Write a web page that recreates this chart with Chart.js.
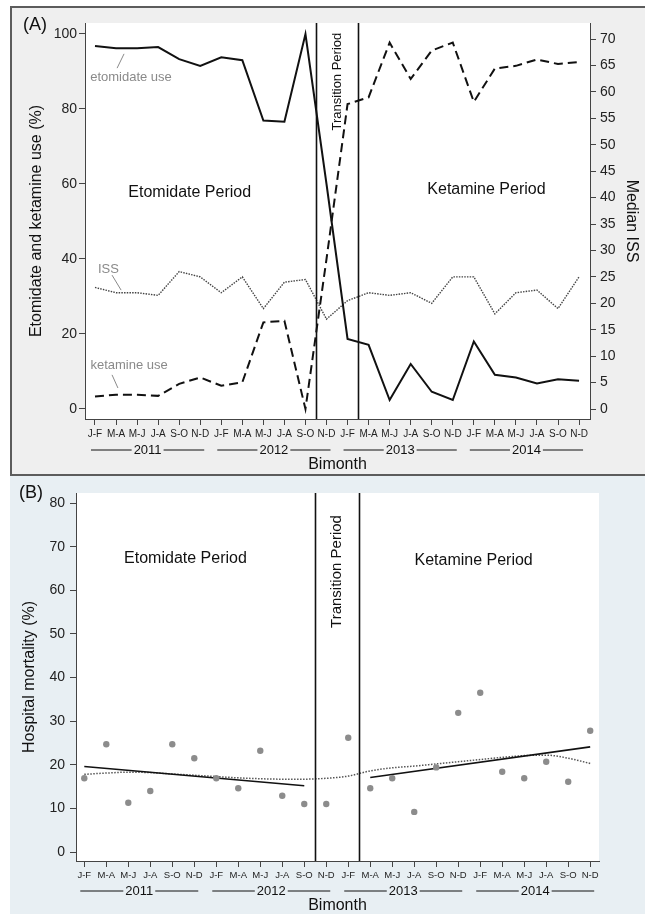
<!DOCTYPE html>
<html>
<head>
<meta charset="utf-8">
<script src="https://cdn.jsdelivr.net/npm/chart.js@4.4.1/dist/chart.umd.min.js"></script>
<style>
  html, body { margin: 0; padding: 0; background: #fff; }
  body { width: 645px; height: 914px; position: relative; overflow: hidden; }
  #panel-a { position: absolute; left: 10px; top: 6px; width: 640px; height: 466px; background: #efefef; border: 2px solid #5c5c5c; border-right: none; }
  #panel-b { position: absolute; left: 10px; top: 476px; width: 640px; height: 440px; background: #e8eff3; }
  canvas { position: absolute; left: 0; }
  #chart-a { top: 0; }
  #chart-b { top: 476px; }
</style>
</head>
<body>
<div id="panel-a"></div>
<div id="panel-b"></div>
<canvas id="chart-a" width="645" height="476"></canvas>
<canvas id="chart-b" width="645" height="438"></canvas>
<script>
// Bimonths, 2011-2014
const bimonths = ['J-F', 'M-A', 'M-J', 'J-A', 'S-O', 'N-D',
                  'J-F', 'M-A', 'M-J', 'J-A', 'S-O', 'N-D',
                  'J-F', 'M-A', 'M-J', 'J-A', 'S-O', 'N-D',
                  'J-F', 'M-A', 'M-J', 'J-A', 'S-O', 'N-D'];
const years = ['2011', '2012', '2013', '2014'];
const periodBreaks = [10.5, 12.5];

// Panel A
const etomidateUse = [96.8, 96.2, 96.2, 96.5, 93.3, 91.5, 93.8, 93.0, 76.9, 76.6, 100, 60,
                      18.7, 17.1, 2.4, 12.0, 4.6, 2.4, 18.0, 9.1, 8.4, 6.8, 7.9, 7.5];
const ketamineUse = [3.3, 3.8, 3.8, 3.5, 6.7, 8.4, 6.2, 7.1, 23.1, 23.5, 0, 40,
                     81.3, 83.1, 97.7, 88.0, 95.6, 97.7, 81.9, 90.8, 91.5, 93.2, 92.0, 92.5];
const medianISS = [23, 22, 22, 21.5, 26, 25, 22, 25, 19, 24, 24.5, 17,
                   20.5, 22, 21.5, 22, 20, 25, 25, 18, 22, 22.5, 19, 25];
const useTicks = [0, 20, 40, 60, 80, 100];
const issTicks = [0, 5, 10, 15, 20, 25, 30, 35, 40, 45, 50, 55, 60, 65, 70];

// Panel B
const mortality = [16.9, 24.7, 11.3, 14.0, 24.7, 21.5, 16.9, 14.6, 23.2, 12.9, 11.0, 11.0,
                   26.2, 14.6, 16.9, 9.2, 19.4, 31.9, 36.5, 18.4, 16.9, 20.7, 16.1, 27.8];
const mortalityLowess = [17.8, 18.1, 18.3, 18.2, 17.9, 17.6, 17.3, 17.0, 16.8, 16.7, 16.7, 16.9,
                         17.4, 18.6, 19.3, 19.7, 20.2, 20.7, 21.2, 21.7, 22.1, 22.2, 21.5, 20.3];
const etoFitX = [0, 10];
const etoFitY = [19.6, 15.2];
const ketFitX = [13, 23];
const ketFitY = [17.1, 24.1];
const mortalityTicks = [0, 10, 20, 30, 40, 50, 60, 70, 80];

const FONT = '"Liberation Sans", Arial, sans-serif';
const pts = (ys, xs) => ys.map((y, i) => ({ x: xs ? xs[i] : i, y: y }));

function drawText(ctx, text, x, y, size, color, rot) {
  ctx.save();
  ctx.translate(x, y);
  if (rot) ctx.rotate(rot);
  ctx.font = size + 'px ' + FONT;
  ctx.fillStyle = color;
  ctx.textAlign = 'center';
  ctx.textBaseline = 'middle';
  ctx.fillText(text, 0, 0);
  ctx.restore();
}

function line(ctx, x1, y1, x2, y2, color, w) {
  ctx.save();
  ctx.strokeStyle = color;
  ctx.lineWidth = w;
  ctx.beginPath();
  ctx.moveTo(x1, y1);
  ctx.lineTo(x2, y2);
  ctx.stroke();
  ctx.restore();
}

// white plot area, period lines, year rows
function framePlugin(opts) {
  return {
    id: 'frame',
    beforeDraw(chart) {
      const a = chart.chartArea, ctx = chart.ctx;
      ctx.save();
      ctx.fillStyle = '#fff';
      ctx.fillRect(a.left, a.top, a.right - a.left, a.bottom - a.top);
      ctx.restore();
    },
    afterDatasetsDraw(chart) {
      const a = chart.chartArea, ctx = chart.ctx;
      const xs = chart.scales.x, ys = chart.scales.y;
      periodBreaks.forEach(b => {
        const px = Math.round(xs.getPixelForValue(b)) + 0.5;
        line(ctx, px, a.top, px, a.bottom, '#111', 1.6);
      });
      // period labels
      opts.periods.forEach(p => {
        drawText(ctx, p.text, xs.getPixelForValue(p.x), ys.getPixelForValue(p.y), p.size, '#111', p.rot || 0);
      });
      // series annotations
      (opts.notes || []).forEach(n => {
        drawText(ctx, n.text, xs.getPixelForValue(n.x), ys.getPixelForValue(n.y), 13, '#8a8a8a', 0);
        line(ctx, xs.getPixelForValue(n.lx[0]), ys.getPixelForValue(n.ly[0]),
                  xs.getPixelForValue(n.lx[1]), ys.getPixelForValue(n.ly[1]), '#8a8a8a', 1);
      });
      // year rows
      ctx.save();
      ctx.font = '13px ' + FONT;
      const yy = a.bottom + opts.yearOffset;
      years.forEach((yr, g) => {
        const x0 = xs.getPixelForValue(g * 6) - 4;
        const x1 = xs.getPixelForValue(g * 6 + 5) + 4;
        const mid = (x0 + x1) / 2;
        const w = ctx.measureText(yr).width;
        line(ctx, x0, yy, mid - w / 2 - 2, yy, '#111', 1);
        line(ctx, mid + w / 2 + 2, yy, x1, yy, '#111', 1);
        drawText(ctx, yr, mid, yy + 0.5, 13, '#111', 0);
      });
      ctx.restore();
      drawText(ctx, opts.tag, opts.tagX, opts.tagY, 18, '#111', 0);
    }
  };
}

const xScale = (min, max, h, size) => ({
  type: 'linear', min: min, max: max,
  afterBuildTicks: s => { s.ticks = bimonths.map((_, i) => ({ value: i })); },
  afterFit: s => { s.height = h; },
  ticks: { callback: v => bimonths[v], autoSkip: false, maxRotation: 0, padding: 3,
           color: '#222', font: { family: FONT, size: size } },
  grid: { drawOnChartArea: false, tickLength: 6, color: '#444' },
  border: { color: '#444', width: 1 },
  title: { display: true, text: 'Bimonth', color: '#111', font: { family: FONT, size: 16, lineHeight: 1 },
           padding: { top: 0, bottom: h === 57 ? 3 : 0 } }
});

// ---- Panel A ----
new Chart(document.getElementById('chart-a').getContext('2d'), {
  type: 'line',
  data: {
    datasets: [
      { data: pts(etomidateUse), yAxisID: 'y', borderColor: '#111', borderWidth: 2, pointRadius: 0 },
      { data: pts(ketamineUse), yAxisID: 'y', borderColor: '#111', borderWidth: 2, borderDash: [9, 5], pointRadius: 0 },
      { data: pts(medianISS), yAxisID: 'y2', borderColor: '#444', borderWidth: 1.4, borderDash: [1.5, 1.2], pointRadius: 0 }
    ]
  },
  options: {
    responsive: false, animation: false,
    layout: { padding: { top: 23, right: 0, left: 0, bottom: 0 } },
    plugins: { legend: { display: false }, tooltip: { enabled: false } },
    scales: {
      x: xScale(-0.475, 23.52, 57, 10),
      y: {
        position: 'left', min: -2.67, max: 102.93,
        afterBuildTicks: s => { s.ticks = useTicks.map(v => ({ value: v })); },
        afterFit: s => { s.width = 85; },
        ticks: { padding: 2, color: '#222', font: { family: FONT, size: 14 } },
        grid: { drawOnChartArea: false, tickLength: 6, color: '#444' },
        border: { color: '#444', width: 1 },
        title: { display: true, text: 'Etomidate and ketamine use (%)', color: '#111',
                 font: { family: FONT, size: 16, lineHeight: 1.2 }, padding: { top: 27, bottom: 0 } }
      },
      y2: {
        position: 'right', min: -1.89, max: 73.03,
        afterBuildTicks: s => { s.ticks = issTicks.map(v => ({ value: v })); },
        afterFit: s => { s.width = 55; },
        ticks: { padding: 4, color: '#222', font: { family: FONT, size: 14 } },
        grid: { drawOnChartArea: false, tickLength: 6, color: '#444' },
        border: { color: '#444', width: 1 },
        title: { display: true, text: 'Median ISS', color: '#111',
                 font: { family: FONT, size: 16, lineHeight: 1.2 }, padding: { top: 4, bottom: 0 } }
      }
    }
  },
  plugins: [framePlugin({
    tag: '(A)', tagX: 35, tagY: 25, yearOffset: 31,
    periods: [
      { text: 'Etomidate Period', x: 4.5, y: 57.6, size: 16 },
      { text: 'Ketamine Period', x: 18.6, y: 58.4, size: 16 },
      { text: 'Transition Period', x: 11.5, y: 87.3, size: 13, rot: -Math.PI / 2 }
    ],
    notes: [
      { text: 'etomidate use', x: 1.71, y: 88.5, lx: [1.38, 1.05], ly: [94.7, 90.9] },
      { text: 'ISS', x: 0.64, y: 37.3, lx: [0.81, 1.24], ly: [35.7, 31.7] },
      { text: 'ketamine use', x: 1.62, y: 11.7, lx: [0.81, 1.09], ly: [9.1, 5.6] }
    ]
  })]
});

// ---- Panel B ----
new Chart(document.getElementById('chart-b').getContext('2d'), {
  type: 'line',
  data: {
    datasets: [
      { data: pts(mortality), showLine: false, pointRadius: 3.2, pointBackgroundColor: '#8c8c8c',
        pointBorderWidth: 0, borderColor: '#8c8c8c' },
      { data: pts(etoFitY, etoFitX), borderColor: '#111', borderWidth: 1.6, pointRadius: 0 },
      { data: pts(ketFitY, ketFitX), borderColor: '#111', borderWidth: 1.6, pointRadius: 0 },
      { data: pts(mortalityLowess), borderColor: '#555', borderWidth: 1.5, borderDash: [1.5, 1.5],
        pointRadius: 0, cubicInterpolationMode: 'monotone' }
    ]
  },
  options: {
    responsive: false, animation: false,
    layout: { padding: { top: 17, right: 46, left: 0, bottom: 0 } },
    plugins: { legend: { display: false }, tooltip: { enabled: false } },
    scales: {
      x: xScale(-0.377, 23.4, 53, 9.5),
      y: {
        position: 'left', min: -2.06, max: 82.3,
        afterBuildTicks: s => { s.ticks = mortalityTicks.map(v => ({ value: v })); },
        afterFit: s => { s.width = 76; },
        ticks: { padding: 5, color: '#222', font: { family: FONT, size: 14 } },
        grid: { drawOnChartArea: false, tickLength: 6, color: '#444' },
        border: { color: '#444', width: 1 },
        title: { display: true, text: 'Hospital mortality (%)', color: '#111',
                 font: { family: FONT, size: 16, lineHeight: 1.2 }, padding: { top: 20, bottom: 0 } }
      }
    }
  },
  plugins: [framePlugin({
    tag: '(B)', tagX: 31, tagY: 17, yearOffset: 30,
    periods: [
      { text: 'Etomidate Period', x: 4.6, y: 67.2, size: 16 },
      { text: 'Ketamine Period', x: 17.7, y: 66.9, size: 16 },
      { text: 'Transition Period', x: 11.5, y: 64.3, size: 15, rot: -Math.PI / 2 }
    ]
  })]
});
</script>
</body>
</html>
